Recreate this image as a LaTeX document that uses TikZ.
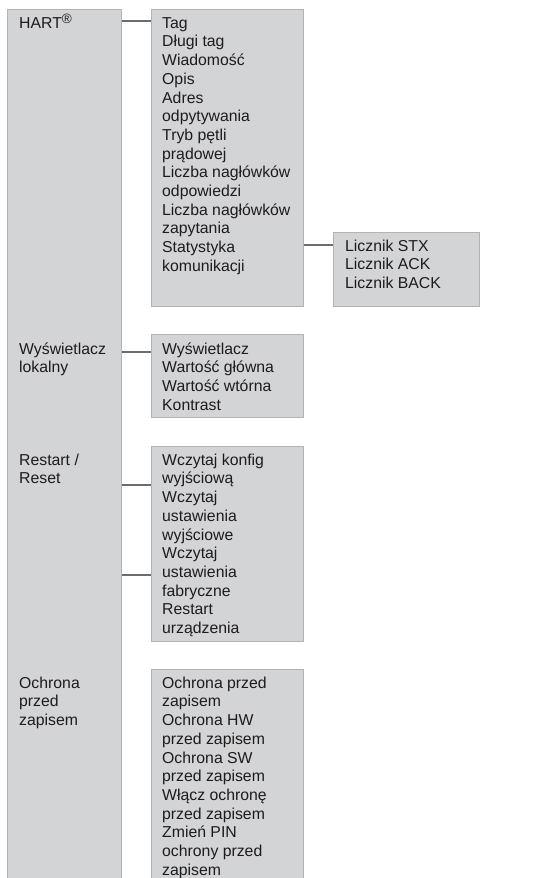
\documentclass[tikz,border=0pt]{standalone}
\usepackage{fontspec}
\setmainfont{Liberation Sans}
\definecolor{boxfill}{RGB}{211,212,214}
\definecolor{boxline}{RGB}{178,179,181}
\definecolor{connline}{RGB}{108,108,108}
\definecolor{textcol}{RGB}{30,27,28}
% strut that fixes the first baseline 15pt below a label's top edge
\newcommand\firstline{\rule{0pt}{15pt}}
% raised registered-trademark sign
\newcommand\regmark{\raisebox{5pt}{\fontsize{13.5}{13.5}\selectfont ®}}
\begin{document}
\begin{tikzpicture}[x=1pt,y=-1pt,
  menubox/.style={draw=boxline, fill=boxfill, line width=1.2pt, inner sep=0pt,
    anchor=north west},
  menutext/.style={anchor=north west, inner sep=0pt, align=left, text=textcol,
    font=\fontsize{15.8}{18.7}\selectfont},
  conn/.style={draw=connline, line width=1.8pt}]
\useasboundingbox (0,0) rectangle (543,878);

% menu boxes
\node[menubox, minimum width=114pt, minimum height=890pt] (col)  at (7,9)   {};
\node[menubox, minimum width=152pt, minimum height=297pt] (hart) at (151,9) {};
\node[menubox, minimum width=146pt, minimum height=74pt]  (cnt)  at (333,232) {};
\node[menubox, minimum width=152pt, minimum height=83pt]  (disp) at (151,334) {};
\node[menubox, minimum width=152pt, minimum height=195pt] (rst)  at (151,446) {};
\node[menubox, minimum width=152pt, minimum height=240pt] (wp)   at (151,669) {};

% first-level entries
\node[menutext] (l-hart) at (19,13)  {\firstline HART\regmark};
\node[menutext] (l-disp) at (19,339) {\firstline Wyświetlacz\\lokalny};
\node[menutext] (l-rst)  at (19,450) {\firstline Restart /\\Reset};
\node[menutext] (l-wp)   at (19,673) {\firstline Ochrona\\przed\\zapisem};

% submenu entries
\node[menutext] (s-hart) at (162,13) {\firstline Tag\\Długi tag\\Wiadomość\\Opis\\Adres\\odpytywania\\Tryb pętli\\prądowej\\Liczba nagłówków\\odpowiedzi\\Liczba nagłówków\\zapytania\\Statystyka\\komunikacji};
\node[menutext] (s-cnt)  at (345,236) {\firstline Licznik STX\\Licznik ACK\\Licznik BACK};
\node[menutext] (s-disp) at (162,339) {\firstline Wyświetlacz\\Wartość główna\\Wartość wtórna\\Kontrast};
\node[menutext] (s-rst)  at (162,450) {\firstline Wczytaj konfig\\wyjściową\\Wczytaj\\ustawienia\\wyjściowe\\Wczytaj\\ustawienia\\fabryczne\\Restart\\urządzenia};
\node[menutext] (s-wp)   at (162,673) {\firstline Ochrona przed\\zapisem\\Ochrona HW\\przed zapisem\\Ochrona SW\\przed zapisem\\Włącz ochronę\\przed zapisem\\Zmień PIN\\ochrony przed\\zapisem};

% connector heights
\coordinate (y-hart) at (0,21);
\coordinate (y-cnt)  at (0,245);
\coordinate (y-disp) at (0,352);
\coordinate (y-rst1) at (0,485);
\coordinate (y-rst2) at (0,575);

% connectors
\draw[conn] (col.east |- y-hart) -- (hart.west |- y-hart);
\draw[conn] (hart.east |- y-cnt) -- (cnt.west |- y-cnt);
\draw[conn] (col.east |- y-disp) -- (disp.west |- y-disp);
\draw[conn] (col.east |- y-rst1) -- (rst.west |- y-rst1);
\draw[conn] (col.east |- y-rst2) -- (rst.west |- y-rst2);
\end{tikzpicture}
\end{document}
